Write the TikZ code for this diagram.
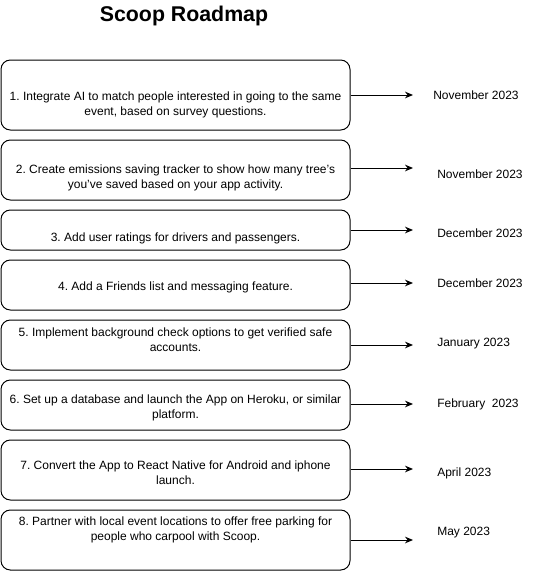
\documentclass[tikz,border=0pt]{standalone}
\usepackage{fontspec}
\setmainfont{Liberation Sans}
\frenchspacing
\usetikzlibrary{arrows.meta,positioning,calc,fit}
\definecolor{Ink}{HTML}{000000}
\tikzset{
  stepbox/.style={draw=Ink,line width=0.75pt,rounded corners=7pt,inner sep=0pt},
  steptext/.style={font=\fontsize{9}{11.25}\selectfont,align=center,inner sep=0pt},
  datetext/.style={font=\fontsize{9}{11.25}\selectfont,anchor=west,inner sep=0pt},
  goarrow/.style={draw=Ink,line width=0.75pt,-{Stealth[length=6pt,width=5pt]}}
}
% box, number / top / bottom / text y / text
\newcommand{\RoadStep}[5]{%
  \node[stepbox,fit={(1,#2) (350,#3)}] (box#1) {};%
  \node[steptext] (step#1) at (175.5,#4) {#5};%
}
% date, number / arrow y / x / y / text
\newcommand{\RoadDate}[5]{%
  \coordinate (tip#1) at (413,#2);%
  \draw[goarrow] (box#1.east |- tip#1) -- (tip#1);%
  \node[datetext] (date#1) at (#3,#4) {#5};%
}

\begin{document}
\begin{tikzpicture}[x=0.75pt,y=-0.75pt]
\useasboundingbox (0,0) rectangle (556,571);
\node[font=\bfseries\fontsize{16}{19}\selectfont,inner sep=0pt] (title) at (184,16) {Scoop Roadmap};
\RoadStep{1}{60}{130}{105}{1. Integrate AI to match people interested in going to the same\\event, based on survey questions.}
\RoadStep{2}{140}{200}{177.5}{2. Create emissions saving tracker to show how many tree’s\\you’ve saved based on your app activity.}
\RoadStep{3}{210}{250}{238}{3. Add user ratings for drivers and passengers.}
\RoadStep{4}{260}{310}{287}{4. Add a Friends list and messaging feature.}
\RoadStep{5}{320}{370}{339.5}{5. Implement background check options to get verified safe\\accounts.}
\RoadStep{6}{380}{430}{407.5}{6. Set up a database and launch the App on Heroku, or similar\\platform.}
\RoadStep{7}{440}{500}{472.5}{7. Convert the App to React Native for Android and iphone\\launch.}
\RoadStep{8}{510}{570}{529.5}{8. Partner with local event locations to offer free parking for\\people who carpool with Scoop.}
\RoadDate{1}{95}{433}{95}{November 2023}
\RoadDate{2}{168}{437}{174}{November 2023}
\RoadDate{3}{230}{437}{233}{December 2023}
\RoadDate{4}{283}{437}{283}{December 2023}
\RoadDate{5}{345}{437}{344}{January 2023}
\RoadDate{6}{404}{437}{404}{February\ \ 2023}
\RoadDate{7}{469}{437}{473}{April 2023}
\RoadDate{8}{540}{437}{533}{May 2023}
\end{tikzpicture}
\end{document}
